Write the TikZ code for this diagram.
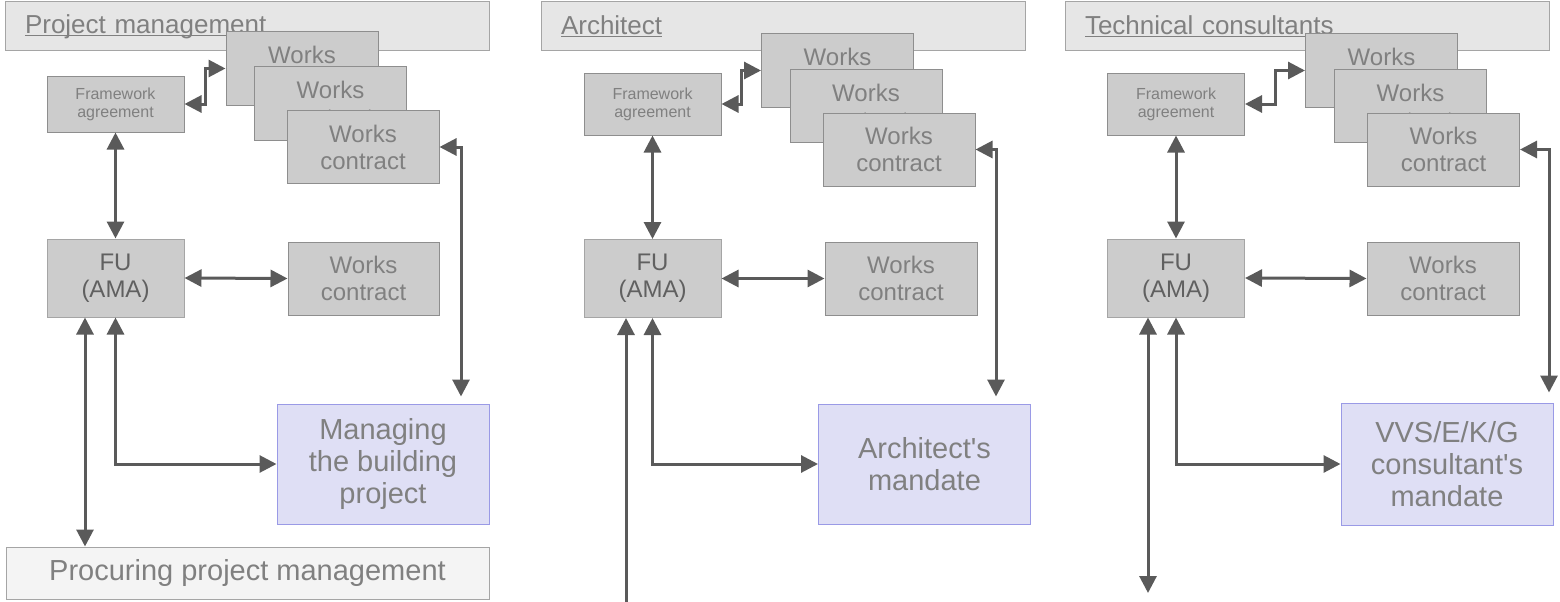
\documentclass[tikz,border=0pt]{standalone}
\usepackage{fontspec}
\setmainfont{Liberation Sans}
\usepackage{tikz}
\usetikzlibrary{calc,arrows.meta}
\definecolor{boxgray}{HTML}{CCCCCC}
\definecolor{framegray}{HTML}{8E8E8E}
\definecolor{hdrgray}{HTML}{E6E6E6}
\definecolor{procgray}{HTML}{F4F4F4}
\definecolor{mandfill}{HTML}{DFDFF5}
\definecolor{mandframe}{HTML}{9A9AE6}
\definecolor{textgray}{HTML}{808080}
\definecolor{fugray}{HTML}{606060}
\definecolor{linkgray}{HTML}{5A5A5A}
\newcommand\hdrline[1]{\setbox0\hbox{#1}\rlap{\rule[-3pt]{\wd0}{1.2pt}}\box0}

\begin{document}
\begin{tikzpicture}[x=1pt,y=-1pt,
	every node/.style={text=textgray,align=center,inner sep=0pt},
	hdr/.style={draw=framegray!80,fill=hdrgray,line width=1pt,minimum width=484pt,minimum height=49pt,text width=444pt,align=left,font=\fontsize{26}{30}\selectfont},
	proc/.style={draw=framegray!80,fill=procgray,line width=1pt,minimum width=483pt,minimum height=52pt,font=\fontsize{29}{32}\selectfont},
	frame/.style={draw=framegray,fill=boxgray,line width=1pt,minimum width=137pt,minimum height=62pt,font=\fontsize{16}{18}\selectfont},
	works/.style={draw=framegray,fill=boxgray,line width=1pt,minimum width=152pt,minimum height=73pt,font=\fontsize{24}{27}\selectfont},
	fubox/.style={draw=framegray!80,fill=boxgray,line width=1pt,minimum width=137pt,minimum height=78pt,text=fugray,font=\fontsize{24}{27}\selectfont},
	mandate/.style={draw=mandframe,fill=mandfill,line width=1pt,minimum width=212pt,minimum height=120pt,font=\fontsize{29}{32}\selectfont},
	link/.style={draw=linkgray,line width=3pt},
	>={Triangle[length=17pt 0,width=17pt 0]}]
	\useasboundingbox (0,0) rectangle (1560,602);
	% project management
	\node[hdr] (hdr1) at (247,26.5) {\hdrline{Project management}};
	\node[frame,minimum height=56pt] (fw1) at (115.5,104) {Framework\\agreement};
	\node[works] (a1) at (302,68.5) {Works\\contract};
	\node[works] (b1) at (330.5,103.5) {Works\\contract};
	\node[works] (c1) at (363,147) {Works\\contract};
	\node[fubox] (fu1) at (115.5,278) {FU\\(AMA)};
	\node[works,minimum width=151pt] (wc1) at (363.5,278.5) {Works\\contract};
	\node[mandate] (m1) at (383,464) {Managing\\the building\\project};
	\node[proc] (pr1) at (247.5,573) {Procuring project management};
	\coordinate (e1) at (85,0);
	\coordinate (k1) at (461,0);
	\draw[link,<->] (fw1.east) -| ($(fw1.east)!0.5!(a1.west)$) |- (a1.west);
	\draw[link,<->] (fw1.south) -- (fu1.north);
	\draw[link,<->] (fu1.east) -- (wc1.west);
	\draw[link,<->] (fu1.south) |- (m1.west);
	\draw[link,<->,shorten >=7pt] (c1.east) -| (k1 |- m1.north);
	\draw[link,<->] (e1 |- fu1.south) -- (e1 |- pr1.north);
	% architect
	\node[hdr] (hdr2) at (783,26.5) {\hdrline{Architect}};
	\node[frame] (fw2) at (652.5,104) {Framework\\agreement};
	\node[works] (a2) at (837.5,70.5) {Works\\contract};
	\node[works] (b2) at (866,106) {Works\\contract};
	\node[works] (c2) at (899,149.5) {Works\\contract};
	\node[fubox] (fu2) at (652.5,278.5) {FU\\(AMA)};
	\node[works] (wc2) at (901,278.5) {Works\\contract};
	\node[mandate] (m2) at (924.5,464) {Architect\textquotesingle s\\mandate};
	\coordinate (e2) at (626,602);
	\coordinate (k2) at (996,0);
	\draw[link,<->] (fw2.east) -| ($(fw2.east)!0.5!(a2.west)$) |- (a2.west);
	\draw[link,<->] (fw2.south) -- (fu2.north);
	\draw[link,<->] (fu2.east) -- (wc2.west);
	\draw[link,<->] (fu2.south) |- (m2.west);
	\draw[link,<->,shorten >=7pt] (c2.east) -| (k2 |- m2.north);
	\draw[link,->] (e2) -- (e2 |- fu2.south);
	% technical consultants
	\node[hdr] (hdr3) at (1307,26.5) {\hdrline{Technical consultants}};
	\node[frame] (fw3) at (1176,104) {Framework\\agreement};
	\node[works] (a3) at (1381.5,70.5) {Works\\contract};
	\node[works] (b3) at (1410.5,106) {Works\\contract};
	\node[works] (c3) at (1443.5,149.5) {Works\\contract};
	\node[fubox] (fu3) at (1176,278) {FU\\(AMA)};
	\node[works] (wc3) at (1443,278.5) {Works\\contract};
	\node[mandate,minimum height=122pt] (m3) at (1447,464) {VVS/E/K/G\\consultant\textquotesingle s\\mandate};
	\coordinate (e3) at (1148,593);
	\coordinate (k3) at (1549,0);
	\draw[link,<->] (fw3.east) -| ($(fw3.east)!0.5!(a3.west)$) |- (a3.west);
	\draw[link,<->] (fw3.south) -- (fu3.north);
	\draw[link,<->] (fu3.east) -- (wc3.west);
	\draw[link,<->] (fu3.south) |- (m3.west);
	\draw[link,<->,shorten >=10pt] (c3.east) -| (k3 |- m3.north);
	\draw[link,<->] (e3 |- fu3.south) -- (e3);
\end{tikzpicture}
\end{document}
